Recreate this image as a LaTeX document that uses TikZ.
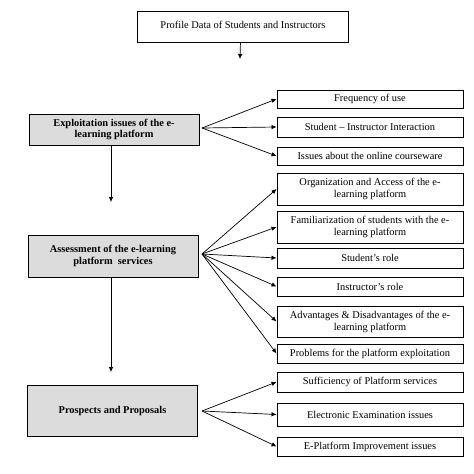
\documentclass[tikz,border=0pt]{standalone}
\usepackage{fontspec}
\setmainfont{Liberation Serif}
\usetikzlibrary{arrows.meta}
\definecolor{boxgray}{HTML}{DCDCDC}
\begin{document}
\begin{tikzpicture}[x=1pt,y=-1pt,
  every node/.style={font=\fontsize{10.4}{12}\selectfont, inner sep=0pt, align=center},
  plainbox/.style={draw, line width=0.9pt, fill=white},
  rbox/.style={plainbox, minimum width=186pt},
  lbox/.style={draw, line width=0.9pt, fill=boxgray, minimum width=170pt, font=\fontsize{10.4}{12}\selectfont\bfseries},
  arr/.style={-{Latex[length=5pt,width=4.5pt]}, line width=0.7pt}]
\useasboundingbox (0,0) rectangle (474,474);
% top
\node[plainbox, minimum width=211pt, minimum height=31pt, anchor=north west] (top) at (137,11) {\raisebox{5pt}{Profile Data of Students and Instructors}};
\coordinate (topend) at (240,59);
\draw[arr] ([xshift=-2.5pt]top.south) -- (topend);
% left boxes
\node[lbox, minimum height=31pt] (expl) at (114,129.5) {Exploitation issues of the e-\\[-1pt]learning platform};
\node[lbox, minimum height=42pt] (assess) at (113,256) {Assessment of the e-learning\\platform\ \ services};
\node[lbox, minimum height=51pt] (prosp) at (112.5,410.5) {Prospects and Proposals};
\coordinate (e1) at (111,202);
\coordinate (e2) at (111,372);
\draw[arr] (111,145) -- (e1);
\draw[arr] (111,277) -- (e2);
% right boxes
\node[rbox, minimum height=18pt] (freq) at (370,99) {Frequency of use};
\node[rbox, minimum height=20pt] (inter) at (370,127) {Student -- Instructor Interaction};
\node[rbox, minimum height=18pt] (course) at (370,156) {Issues about the online courseware};
\node[rbox, minimum height=32pt] (org) at (370,189) {Organization and Access of the e-\\learning platform};
\node[rbox, minimum height=32pt] (fam) at (370,227) {Familiarization of students with the e-\\learning platform};
\node[rbox, minimum height=20pt] (srole) at (370,258) {Student's role};
\node[rbox, minimum height=19pt] (irole) at (370,286.5) {Instructor's role};
\node[rbox, minimum height=31pt] (adv) at (370,321.5) {Advantages \& Disadvantages of the e-\\learning platform};
\node[rbox, minimum height=19pt] (prob) at (370,353.5) {Problems for the platform exploitation};
\node[rbox, minimum height=20pt] (suff) at (370,382) {Sufficiency of Platform services};
\node[rbox, minimum height=23pt] (exam) at (370,414.5) {Electronic Examination issues};
\node[rbox, minimum height=19pt] (impr) at (370,446.5) {E-Platform Improvement issues};
% fans
\coordinate (f1) at (202,128);
\coordinate (f2) at (202,254);
\coordinate (f3) at (202,411);
\foreach \t in {freq,inter,course} \draw[arr] (f1) -- (\t.west);
\foreach \t in {org,fam,srole,irole,adv,prob} \draw[arr] (f2) -- (\t.west);
\foreach \t in {suff,exam,impr} \draw[arr] (f3) -- (\t.west);
\end{tikzpicture}
\end{document}
